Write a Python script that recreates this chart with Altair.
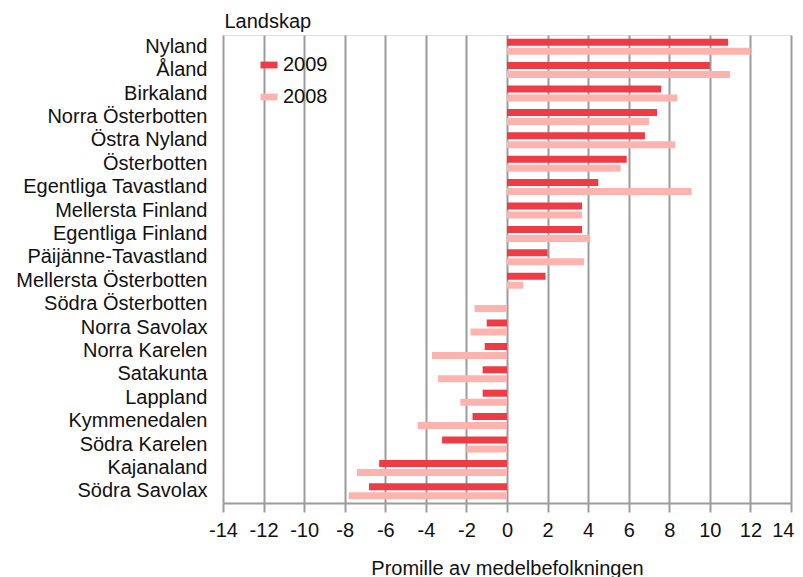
import altair as alt
import pandas as pd

regions = ["Nyland", "Åland", "Birkaland", "Norra Österbotten", "Östra Nyland",
           "Österbotten", "Egentliga Tavastland", "Mellersta Finland",
           "Egentliga Finland", "Päijänne-Tavastland", "Mellersta Österbotten",
           "Södra Österbotten", "Norra Savolax", "Norra Karelen", "Satakunta",
           "Lappland", "Kymmenedalen", "Södra Karelen", "Kajanaland", "Södra Savolax"]
v2009 = [10.9, 10.0, 7.6, 7.4, 6.8, 5.9, 4.5, 3.7, 3.7, 2.0, 1.9, 0.0,
         -1.0, -1.1, -1.2, -1.2, -1.7, -3.2, -6.3, -6.8]
v2008 = [12.0, 11.0, 8.4, 7.0, 8.3, 5.6, 9.1, 3.7, 4.1, 3.8, 0.8, -1.6,
         -1.8, -3.7, -3.4, -2.3, -4.4, -2.0, -7.4, -7.8]
years = ["2009", "2008"]
colors = ["#EF3B44", "#FFB3AE"]
x_ticks = list(range(-14, 15, 2))

rows = []
for r, a, b in zip(regions, v2009, v2008):
    rows.append({"region": r, "year": "2009", "value": a})
    rows.append({"region": r, "year": "2008", "value": b})
df = pd.DataFrame(rows)

FONT = "Liberation Sans"
FS = 20

chart = alt.Chart(df).mark_bar().encode(
    y=alt.Y("region:N", sort=regions,
            scale=alt.Scale(paddingInner=0, paddingOuter=0),
            axis=alt.Axis(title="Landskap", ticks=False, domain=False, grid=False,
                          labelPadding=16, labelFontSize=FS, labelFont=FONT,
                          labelColor="#111", labelLimit=400,
                          titleAngle=0, titleAlign="left", titleBaseline="alphabetic",
                          titleX=1, titleY=-8, titleFontSize=FS, titleFont=FONT,
                          titleFontWeight="normal", titleColor="#111")),
    x=alt.X("value:Q", scale=alt.Scale(domain=[-14, 14], nice=False, zero=False),
            axis=alt.Axis(title="Promille av medelbefolkningen", values=x_ticks,
                          labelExpr="datum.value < 0 ? '-' + abs(datum.value) : '' + datum.value",
                          labelAlign={"condition": {"test": "datum.value == 14", "value": "right"},
                                      "value": "center"},
                          labelOffset={"condition": {"test": "datum.value == 14", "value": 3},
                                       "value": 0},
                          grid=True, gridColor="#9c9c9c", gridWidth=2,
                          domainColor="#9c9c9c", domainWidth=2,
                          tickColor="#9c9c9c", tickWidth=2, tickSize=9,
                          labelPadding=8, labelFontSize=FS, labelFont=FONT,
                          labelColor="#111", labelFlush=False,
                          titleFontSize=FS, titleFont=FONT, titleFontWeight="normal",
                          titleColor="#111", titlePadding=18)),
    yOffset=alt.YOffset("year:N", sort=years,
                        scale=alt.Scale(paddingInner=0.22, paddingOuter=0.41)),
    color=alt.Color("year:N", sort=years,
                    scale=alt.Scale(domain=years, range=colors),
                    legend=alt.Legend(title=None, orient="none", legendX=36, legendY=20,
                                      symbolType="M-1,-0.4L1,-0.4L1,0.4L-1,0.4Z",
                                      symbolSize=289, symbolStrokeWidth=0,
                                      labelFontSize=FS, labelFont=FONT, labelColor="#111",
                                      labelOffset=4, rowPadding=12)),
).properties(
    width=568, height=468,
    autosize=alt.AutoSizeParams(type="none"),
    padding={"left": 215, "top": 27, "right": 4, "bottom": 74},
).configure_view(
    stroke="#a8a8a8", strokeWidth=2
).configure(background="white")

chart.save("out.html", embed_options={"renderer": "svg", "actions": False})
